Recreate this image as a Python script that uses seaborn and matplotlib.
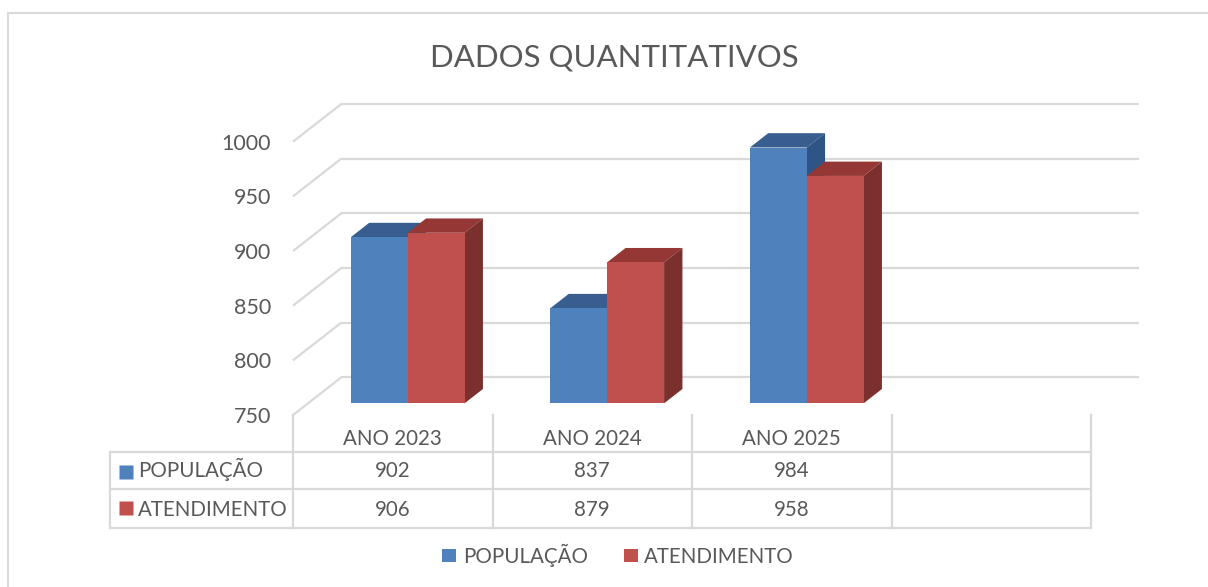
import numpy as np
import pandas as pd
import matplotlib
matplotlib.use("Agg")
import matplotlib.pyplot as plt
from matplotlib.patches import Polygon, Rectangle
from matplotlib.transforms import blended_transform_factory
import seaborn as sns

# ---------------- data ----------------
categories = ["ANO 2023", "ANO 2024", "ANO 2025", ""]
series_names = ["POPULAÇÃO", "ATENDIMENTO"]
populacao = [902, 837, 984, np.nan]
atendimento = [906, 879, 958, np.nan]
y_ticks = [750, 800, 850, 900, 950, 1000]
title = "DADOS QUANTITATIVOS"

# ---------------- styles ----------------
front_colors = ["#4F81BD", "#C0504D"]
top_colors = ["#385E8F", "#943735"]
side_colors = ["#2F5587", "#7B302E"]
grid_color = "#D9D9D9"
text_color = "#595959"
FS = 14.8

sns.set_style("white")
plt.rcParams["font.family"] = ["Lato", "DejaVu Sans"]

W, H = 1208, 587
fig = plt.figure(figsize=(W / 100, H / 100), dpi=100)


def fx(px):
    return px / W


def fy(py):
    return (H - py) / H


# front plane geometry in pixels
X0, X1 = 293.0, 1091.0
Y_LO, Y_HI = 415.0, 141.7
WALL = (48.3, 37.7)      # depth vector of floor/wall (px)
T0 = 0.31                # depth of bar front faces
BAR_D = 0.38             # bar depth

px_x = (X1 - X0) / len(categories)
px_y = (Y_LO - Y_HI) / (y_ticks[-1] - y_ticks[0])


def add_plane(t, z):
    ox, oy = WALL[0] * t, WALL[1] * t
    a = fig.add_axes([fx(X0 + ox), fy(Y_LO - oy), (X1 - X0) / W, (Y_LO - Y_HI) / H], zorder=z)
    a.set_xlim(-0.5, len(categories) - 0.5)
    a.set_ylim(y_ticks[0], y_ticks[-1])
    a.patch.set_visible(False)
    return a


ax_back = add_plane(1.0, 0)
ax = add_plane(0.0, 1)
ax_bar = add_plane(T0, 2)

# back wall gridlines
ax_back.hlines(y_ticks, -0.5, len(categories) - 0.5, colors=grid_color, lw=1.6, clip_on=False)
ax_back.axis("off")

# left wall diagonals
for yv in y_ticks:
    ax.plot([-0.5, -0.5 + WALL[0] / px_x], [yv, yv + WALL[1] / px_y],
            color=grid_color, lw=1.6, clip_on=False, solid_capstyle="butt")

for s in ax.spines.values():
    s.set_visible(False)
ax.set_xticks([])
ax.set_yticks(y_ticks)
ax.set_yticklabels([str(v) for v in y_ticks])
ax.tick_params(axis="y", length=0, pad=16, labelsize=15.5, labelcolor=text_color)
ax.set_xlim(-0.5, len(categories) - 0.5)
ax.set_ylim(y_ticks[0], y_ticks[-1])

# ---------------- bars ----------------
df = pd.DataFrame({
    "categoria": categories * 2,
    "serie": [s for s in series_names for _ in categories],
    "valor": populacao + atendimento,
}).dropna()

sns.barplot(data=df, x="categoria", y="valor", hue="serie", order=categories,
            hue_order=series_names, palette=front_colors, saturation=1,
            width=0.57, linewidth=0, errorbar=None, ax=ax_bar)
ax_bar.set_xlim(-0.5, len(categories) - 0.5)
ax_bar.set_ylim(y_ticks[0], y_ticks[-1])

ddx = BAR_D * WALL[0] / px_x
ddy = BAR_D * WALL[1] / px_y
base = y_ticks[0]
for i, cont in enumerate(ax_bar.containers):
    for p in cont.patches:
        h = p.get_height()
        if not np.isfinite(h) or h == 0:
            continue
        x0 = p.get_x()
        x1 = x0 + p.get_width()
        top = p.get_y() + h
        p.set_zorder(3 + 2 * i)
        ax_bar.add_patch(Polygon([(x0, top), (x1, top), (x1 + ddx, top + ddy), (x0 + ddx, top + ddy)],
                                 closed=True, fc=top_colors[i], ec="none", zorder=2 + 2 * i, clip_on=False))
        ax_bar.add_patch(Polygon([(x1, base), (x1, top), (x1 + ddx, top + ddy), (x1 + ddx, base + ddy)],
                                 closed=True, fc=side_colors[i], ec="none", zorder=2 + 2 * i, clip_on=False))
ax_bar.axis("off")

# legend
sns.move_legend(ax_bar, "center", bbox_to_anchor=(fx(618), fy(555.5)),
                bbox_transform=fig.transFigure, ncol=2, frameon=False, title=None,
                fontsize=FS, handlelength=0.68, handleheight=0.62, handletextpad=0.3,
                columnspacing=1.75, labelcolor=text_color)

# ---------------- data table ----------------
trans = blended_transform_factory(ax.transData, fig.transFigure)
col_edges = np.arange(len(categories) + 1) - 0.5


def px2x(px):
    return (px - X0) / px_x - 0.5


label_left = px2x(110)
rows_px = [415, 451.7, 489.3, 527.7]
lkw = dict(color=grid_color, lw=1.6, transform=trans, clip_on=False, solid_capstyle="projecting")
for ce in col_edges:
    ax.plot([ce, ce], [fy(rows_px[0]), fy(rows_px[-1])], **lkw)
ax.plot([label_left, label_left], [fy(rows_px[1]), fy(rows_px[-1])], **lkw)
for rp in rows_px[1:]:
    ax.plot([label_left, col_edges[-1]], [fy(rp), fy(rp)], **lkw)

tkw = dict(transform=trans, fontsize=FS, color=text_color, va="baseline", clip_on=False)
for j, c in enumerate(categories):
    ax.text(j, fy(445), c, ha="center", **tkw)

series_values = [populacao, atendimento]
row_baselines = [477.3, 515.7]
row_square_y = [471.5, 508.0]
for r, (name, vals) in enumerate(zip(series_names, series_values)):
    ax.plot(px2x(125.8), fy(row_square_y[r]), marker="s", ms=9.5, mfc=front_colors[r],
            mec="none", transform=trans, clip_on=False)
    ax.text(px2x(138), fy(row_baselines[r]), name, ha="left", **tkw)
    for j, v in enumerate(vals):
        ax.text(j, fy(row_baselines[r]), "" if not np.isfinite(v) else f"{v:.0f}", ha="center", **tkw)

# title
fig.text(fx(614.5), fy(66.7), title, ha="center", va="baseline", fontsize=22.4,
         fontweight="normal", color=text_color)

# chart border
fig.add_artist(Rectangle((fx(8), -0.05), 1.0, fy(13) + 0.05, transform=fig.transFigure,
                         fill=False, ec=grid_color, lw=1.5))

fig.savefig("out.png", dpi=100)
